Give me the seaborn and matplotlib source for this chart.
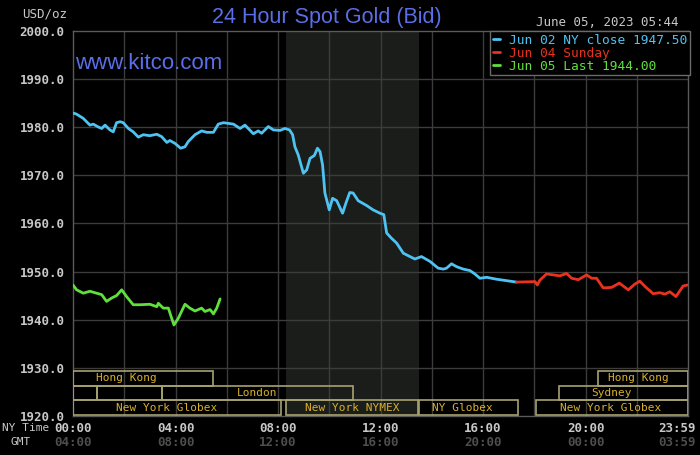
import numpy as np
import pandas as pd
import matplotlib
matplotlib.use("Agg")
import matplotlib.pyplot as plt
import matplotlib.transforms as mtrans
from matplotlib.lines import Line2D
from matplotlib.patches import Rectangle
import seaborn as sns

# ---------------- data ----------------
blue_hours = [0.0, 0.13, 0.4, 0.66, 0.79, 0.99, 1.12, 1.25, 1.44, 1.57, 1.7, 1.84, 1.96, 2.16, 2.35,
              2.55, 2.74, 3.0, 3.27, 3.46, 3.66, 3.78, 3.98, 4.2, 4.37, 4.5, 4.76, 5.02, 5.22, 5.48,
              5.67, 5.87, 6.26, 6.52, 6.71, 7.04, 7.23, 7.36, 7.62, 7.82, 8.08, 8.27, 8.45, 8.57,
              8.66, 8.79, 8.99, 9.12, 9.25, 9.42, 9.54, 9.64, 9.74, 9.83, 10.0, 10.13, 10.29, 10.52,
              10.65, 10.8, 10.93, 11.13, 11.46, 11.71, 11.98, 12.13, 12.24, 12.43, 12.63, 12.89,
              13.15, 13.34, 13.6, 13.93, 14.25, 14.45, 14.58, 14.77, 14.97, 15.23, 15.49, 15.68,
              15.88, 16.14, 16.53, 16.92, 17.31]
blue_vals = [1982.9, 1982.7, 1981.8, 1980.4, 1980.6, 1980.0, 1979.7, 1980.4, 1979.4, 1979.0, 1980.9,
             1981.1, 1980.9, 1979.7, 1979.0, 1977.9, 1978.4, 1978.2, 1978.5, 1978.0, 1976.8, 1977.2,
             1976.6, 1975.6, 1975.9, 1977.0, 1978.4, 1979.2, 1978.9, 1978.9, 1980.6, 1980.9, 1980.6,
             1979.7, 1980.4, 1978.6, 1979.2, 1978.7, 1980.1, 1979.4, 1979.3, 1979.7, 1979.4, 1978.4,
             1975.9, 1974.2, 1970.4, 1971.1, 1973.5, 1974.1, 1975.6, 1974.9, 1972.1, 1966.3, 1962.8,
             1965.2, 1964.7, 1962.1, 1964.2, 1966.4, 1966.3, 1964.7, 1963.7, 1962.8, 1962.1, 1961.8,
             1958.0, 1956.9, 1955.9, 1953.8, 1953.1, 1952.6, 1953.1, 1952.1, 1950.7, 1950.5, 1950.7,
             1951.6, 1951.0, 1950.5, 1950.2, 1949.5, 1948.6, 1948.8, 1948.4, 1948.1, 1947.8]

red_hours = [17.31, 18.03, 18.12, 18.22, 18.48, 18.74, 19.0, 19.26, 19.46, 19.72, 20.04, 20.24, 20.43,
             20.69, 21.02, 21.32, 21.47, 21.67, 21.93, 22.12, 22.32, 22.64, 22.9, 23.1, 23.29, 23.53,
             23.81, 23.98]
red_vals = [1947.8, 1947.9, 1947.2, 1948.2, 1949.5, 1949.3, 1949.1, 1949.6, 1948.6, 1948.3, 1949.3,
            1948.6, 1948.6, 1946.6, 1946.7, 1947.6, 1947.0, 1946.2, 1947.4, 1948.0, 1946.9, 1945.4,
            1945.6, 1945.3, 1945.8, 1944.8, 1947.0, 1947.2]

green_hours = [0.0, 0.14, 0.4, 0.66, 0.92, 1.12, 1.31, 1.51, 1.7, 1.9, 2.09, 2.35, 2.61, 3.0, 3.27,
               3.33, 3.52, 3.72, 3.85, 3.94, 4.11, 4.37, 4.56, 4.76, 5.02, 5.15, 5.35, 5.48, 5.61, 5.74]
green_vals = [1947.2, 1946.2, 1945.5, 1945.9, 1945.5, 1945.2, 1943.8, 1944.5, 1945.0, 1946.2, 1944.8,
              1943.1, 1943.1, 1943.2, 1942.7, 1943.4, 1942.4, 1942.4, 1940.3, 1938.9, 1940.3, 1943.2,
              1942.4, 1941.8, 1942.4, 1941.7, 1942.1, 1941.2, 1942.4, 1944.3]

series_names = ["Jun 02 NY close 1947.50", "Jun 04 Sunday", "Jun 05 Last 1944.00"]
series_colors = ["#4ec3f2", "#e8321e", "#5fe03c"]

ny_tick_hours = [0, 4, 8, 12, 16, 20, 23.983]
ny_tick_labels = ["00:00", "04:00", "08:00", "12:00", "16:00", "20:00", "23:59"]
gmt_tick_labels = ["04:00", "08:00", "12:00", "16:00", "20:00", "00:00", "03:59"]
y_ticks = [1920, 1930, 1940, 1950, 1960, 1970, 1980, 1990, 2000]

shade_start, shade_end = 8.33, 13.5

# session boxes: (row, start hour, end hour, label, label hour)
session_rows = [1, 1, 2, 2, 2, 2, 3, 3, 3, 3]
session_start = [0.0, 20.5, 0.0, 0.94, 3.47, 18.96, 0.0, 8.33, 13.5, 18.06]
session_end = [5.46, 24.0, 0.94, 3.47, 10.92, 24.0, 8.1, 13.46, 17.37, 24.0]
session_labels = ["Hong Kong", "Hong Kong", "", "", "London", "Sydney",
                  "New York Globex", "New York NYMEX", "NY Globex", "New York Globex"]
session_label_x = [2.1, 22.05, 0.5, 2.2, 7.18, 21.0, 3.67, 10.9, 15.2, 21.0]

# ---------------- style ----------------
sns.set_theme(style="dark")
plt.rcParams["font.family"] = ["DejaVu Sans Mono", "DejaVu Sans"]

BG = "black"
GRID = "#3c3c3c"
LBL = "#c8c8c8"
DIM = "#4e4e4e"
TITLE_BLUE = "#5a6ee8"
BOX_EDGE = "#a8a270"
BOX_TXT = "#d8b02c"

fig = plt.figure(figsize=(7, 4.55), dpi=100, facecolor=BG)
ax = fig.add_axes([73 / 700, 1 - 416 / 455, (688 - 73) / 700, (416 - 30.7) / 455])
ax.set_facecolor(BG)

frames = []
for name, hrs, vals in zip(series_names, [blue_hours, red_hours, green_hours],
                           [blue_vals, red_vals, green_vals]):
    frames.append(pd.DataFrame({"hour": hrs, "price": vals, "series": name}))
df = pd.concat(frames, ignore_index=True)

ax.axvspan(shade_start, shade_end, color="#1b1d1b", zorder=0, lw=0)

sns.lineplot(data=df, x="hour", y="price", hue="series", hue_order=series_names,
             palette=dict(zip(series_names, series_colors)), estimator=None, sort=False,
             lw=2.0, legend=False, ax=ax, zorder=5)

ax.set_xlim(0, 24)
ax.set_ylim(1920, 2000)
ax.set_xlabel("")
ax.set_ylabel("")

# grid
ax.grid(False)
for h in np.arange(2, 24, 2):
    ax.axvline(h, color=GRID, lw=1, zorder=1)
for v in y_ticks[1:-1]:
    ax.axhline(v, color=GRID, lw=1, zorder=1)

for s in ax.spines.values():
    s.set_color("#5a5a5a")
    s.set_linewidth(1)
    s.set_visible(True)

# y ticks
ax.set_yticks(y_ticks)
ax.set_yticklabels([f"{v:.1f}" for v in y_ticks], fontsize=9, fontweight="bold", color=LBL)
ax.tick_params(axis="y", length=0, pad=6)

# x ticks (NY time)
ax.set_xticks(ny_tick_hours)
ax.set_xticklabels(ny_tick_labels, fontsize=9, fontweight="bold", color=LBL)
ax.tick_params(axis="x", length=0, pad=4)
last = ax.get_xticklabels()[-1]
last.set_transform(last.get_transform() + mtrans.ScaledTranslation(-11 / 100, 0, fig.dpi_scale_trans))

# GMT labels
trans = mtrans.blended_transform_factory(ax.transData, fig.transFigure)
for i, (h, lab) in enumerate(zip(ny_tick_hours, gmt_tick_labels)):
    t = ax.text(h, 1 - 443 / 455, lab, transform=trans, ha="center", va="center",
                fontsize=9, fontweight="bold", color=DIM, clip_on=False)
    if i == len(ny_tick_hours) - 1:
        t.set_transform(trans + mtrans.ScaledTranslation(-11 / 100, 0, fig.dpi_scale_trans))

fig.text(2 / 700, 1 - 428 / 455, "NY Time", ha="left", va="center", fontsize=8, color=LBL)
fig.text(31 / 700, 1 - 442 / 455, "GMT", ha="right", va="center", fontsize=8, color=LBL)

# session boxes
row_bottom = {3: 1920.2, 2: 1923.25, 1: 1926.3}
row_h = 3.05
for r, s0, s1, lab, lx in zip(session_rows, session_start, session_end, session_labels, session_label_x):
    ax.add_patch(Rectangle((s0, row_bottom[r]), s1 - s0, row_h, fill=False,
                           edgecolor=BOX_EDGE, lw=1.2, zorder=3))
    if lab:
        ax.text(lx, row_bottom[r] + row_h / 2, lab, ha="center", va="center",
                fontsize=8, color=BOX_TXT, zorder=4)

# legend
handles = [Line2D([0], [0], color=c, lw=2) for c in series_colors]
leg = ax.legend(handles, series_names, loc="upper right", borderaxespad=0,
                handlelength=0.55, handletextpad=0.65, labelspacing=0.0, borderpad=0.22,
                fontsize=9.3, frameon=True, fancybox=False, facecolor=BG, edgecolor="#6a6a6a",
                labelcolor=series_colors, framealpha=1, bbox_to_anchor=(1.003, 1.0))
leg.get_frame().set_linewidth(1)
leg.set_zorder(10)

# texts
fig.text(327 / 700, 1 - 17 / 455, "24 Hour Spot Gold (Bid)", ha="center", va="center",
         fontsize=15.5, color=TITLE_BLUE, family="Liberation Sans")
ax.text(0.004, 0.915, "www.kitco.com", transform=ax.transAxes, ha="left", va="center",
        fontsize=16, color=TITLE_BLUE, family="Liberation Sans", zorder=6)
fig.text(67 / 700, 1 - 14 / 455, "USD/oz", ha="right", va="center", fontsize=9, color=LBL)
fig.text(678 / 700, 1 - 22 / 455, "June 05, 2023 05:44", ha="right", va="center",
         fontsize=9, color=LBL)

fig.savefig("out.png", dpi=100, facecolor=BG)
